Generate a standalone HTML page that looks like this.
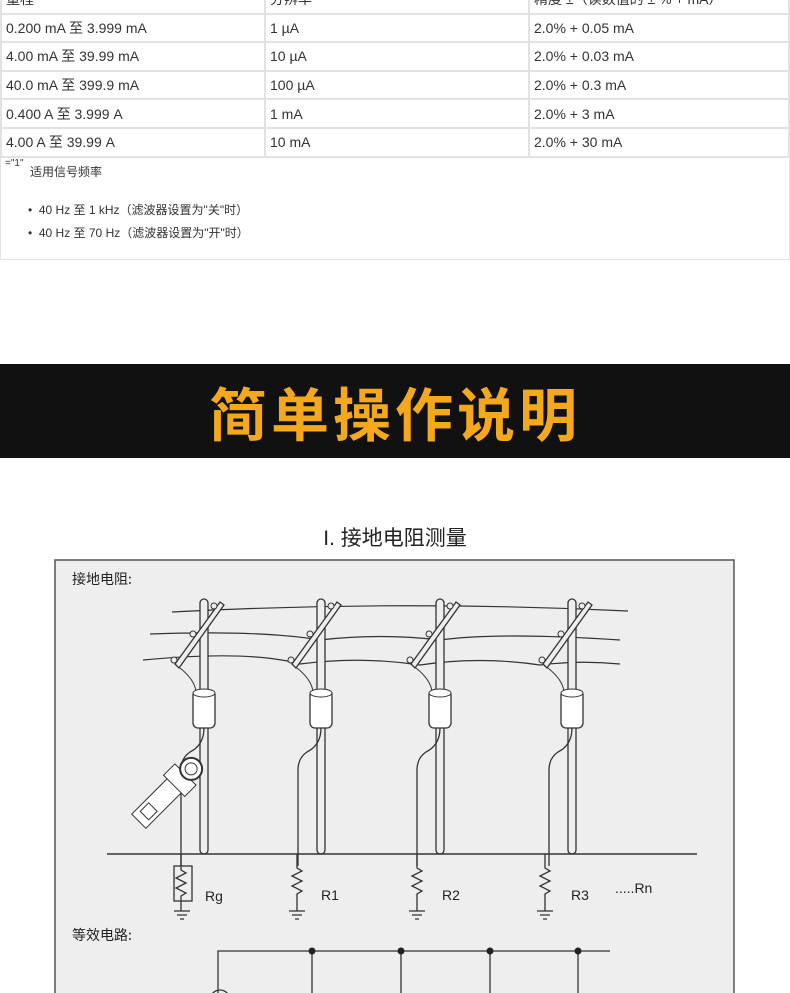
<!DOCTYPE html>
<html><head><meta charset="utf-8"><style>
body{margin:0;width:790px;height:993px;overflow:hidden;background:#fff;font-family:"Liberation Sans","Noto Sans CJK SC",sans-serif;position:relative}
.a{position:absolute}
table{position:absolute;left:0;top:-16px;width:790px;border-collapse:collapse;font-size:14px;color:#333}
td{border:2px solid #e2e2e2;height:26.6px;padding:0 4px;vertical-align:middle;line-height:16px}
</style></head><body>
<table>
<tr><td style="width:254px">量程</td><td style="width:254px">分辨率</td><td>精度 ±（读数值的 ± % + mA）</td></tr>
<tr><td>0.200 mA 至 3.999 mA</td><td>1 µA</td><td>2.0% + 0.05 mA</td></tr>
<tr><td>4.00 mA 至 39.99 mA</td><td>10 µA</td><td>2.0% + 0.03 mA</td></tr>
<tr><td>40.0 mA 至 399.9 mA</td><td>100 µA</td><td>2.0% + 0.3 mA</td></tr>
<tr><td>0.400 A 至 3.999 A</td><td>1 mA</td><td>2.0% + 3 mA</td></tr>
<tr><td>4.00 A 至 39.99 A</td><td>10 mA</td><td>2.0% + 30 mA</td></tr>
</table>
<div class="a" style="left:0;top:156px;width:788px;height:103px;border:1px solid #e2e2e2;border-top:none"></div>
<div class="a" style="left:5px;top:158px;font-size:10px;color:#333">="1"</div>
<div class="a" style="left:30px;top:163px;font-size:12px;color:#333">适用信号频率</div>
<div class="a" style="left:28px;top:201px;font-size:12px;color:#333">•&nbsp;&nbsp;40 Hz 至 1 kHz（滤波器设置为"关"时）</div>
<div class="a" style="left:28px;top:224px;font-size:12px;color:#333">•&nbsp;&nbsp;40 Hz 至 70 Hz（滤波器设置为"开"时）</div>
<div class="a" style="left:0;top:364px;width:790px;height:94px;background:#111"></div>
<div class="a" style="left:0;top:369px;width:790px;text-align:center;font-size:58px;font-weight:bold;color:#f4a91d;letter-spacing:4px;font-family:'Noto Sans CJK SC',sans-serif">简单操作说明</div>
<div class="a" style="left:0;top:522px;width:790px;text-align:center;font-size:21px;color:#222">I. 接地电阻测量</div>
<svg class="a" style="left:0;top:0" width="790" height="993">
<rect x="55" y="560" width="679" height="440" fill="#eeeeee" stroke="#555" stroke-width="1.5"/>
<text x="72" y="584" font-size="14" fill="#222" font-family="Noto Sans CJK SC">接地电阻:</text>
<text x="72" y="940" font-size="14" fill="#222" font-family="Noto Sans CJK SC">等效电路:</text>
<g fill="none" stroke="#333" stroke-width="1.2">
<path d="M172 612 Q400 600 628 611"/>
<path d="M150 634 Q260 630 320 640 Q380 633 440 640 Q500 632 620 640"/>
<path d="M143 660 Q250 650 300 664 Q360 656 420 665 Q480 656 540 665 Q580 660 620 664"/>
</g>
<g id="p">
<rect x="200" y="599" width="8" height="255" rx="4" fill="#eee" stroke="#333" stroke-width="1.3"/>
<path d="M175 664 L220 602 L224 605 L179 668 Z" fill="#eee" stroke="#333" stroke-width="1.3"/>
<circle cx="214" cy="606" r="3" fill="#eee" stroke="#333"/>
<circle cx="193" cy="634" r="3" fill="#eee" stroke="#333"/>
<circle cx="174" cy="660" r="3" fill="#eee" stroke="#333"/>
<path d="M180 668 Q195 680 196 692" fill="none" stroke="#333"/>
<rect x="193" y="690" width="22" height="38" rx="5" fill="#fff" stroke="#333" stroke-width="1.3"/>
<ellipse cx="204" cy="693" rx="11" ry="4" fill="#fff" stroke="#333"/>
<path d="M204 728 Q204 745 190 752 Q181 758 181 770 L181 866" fill="none" stroke="#333" stroke-width="1.3"/>
</g>
<use href="#p" x="117"/><use href="#p" x="236"/><use href="#p" x="368"/>
<line x1="107" y1="854" x2="697" y2="854" stroke="#333" stroke-width="1.5"/>
<g transform="rotate(-45 160 800)">
<rect x="130" y="790" width="52" height="20" fill="#fff" stroke="#333"/>
<rect x="138" y="794" width="12" height="12" fill="none" stroke="#333"/>
<rect x="180" y="785" width="16" height="30" fill="#fff" stroke="#333"/>
<circle cx="204" cy="800" r="11" fill="#fff" stroke="#333" stroke-width="2"/>
<circle cx="204" cy="800" r="6" fill="none" stroke="#333"/>
</g>
<g stroke="#333" stroke-width="1.3" fill="none">
<rect x="174" y="866" width="18" height="35"/>
<path d="M181 854 V870 l5 3 l-10 5 l10 5 l-10 5 l10 5 l-5 3 V911"/>
<path d="M174 911 h16 M177 915 h10 M180 919 h4"/>
<g id="r"><path d="M297 854 V868 l5 3 l-10 5 l10 5 l-10 5 l10 5 l-5 3 V911"/><path d="M289 911 h16 M292 915 h10 M295 919 h4"/></g>
<use href="#r" x="120"/><use href="#r" x="248"/>
<path d="M218 993 V951 H610 M312 951 V993 M401 951 V993 M490 951 V993 M578 951 V993"/>
<circle cx="220" cy="1000" r="10"/>
</g>
<g fill="#222"><circle cx="312" cy="951" r="3.5"/><circle cx="401" cy="951" r="3.5"/><circle cx="490" cy="951" r="3.5"/><circle cx="578" cy="951" r="3.5"/></g>
<g font-size="14" fill="#222">
<text x="205" y="901">Rg</text><text x="321" y="900">R1</text><text x="442" y="900">R2</text><text x="571" y="900">R3</text><text x="615" y="893">.....Rn</text>
</g>
</svg>
</body></html>
